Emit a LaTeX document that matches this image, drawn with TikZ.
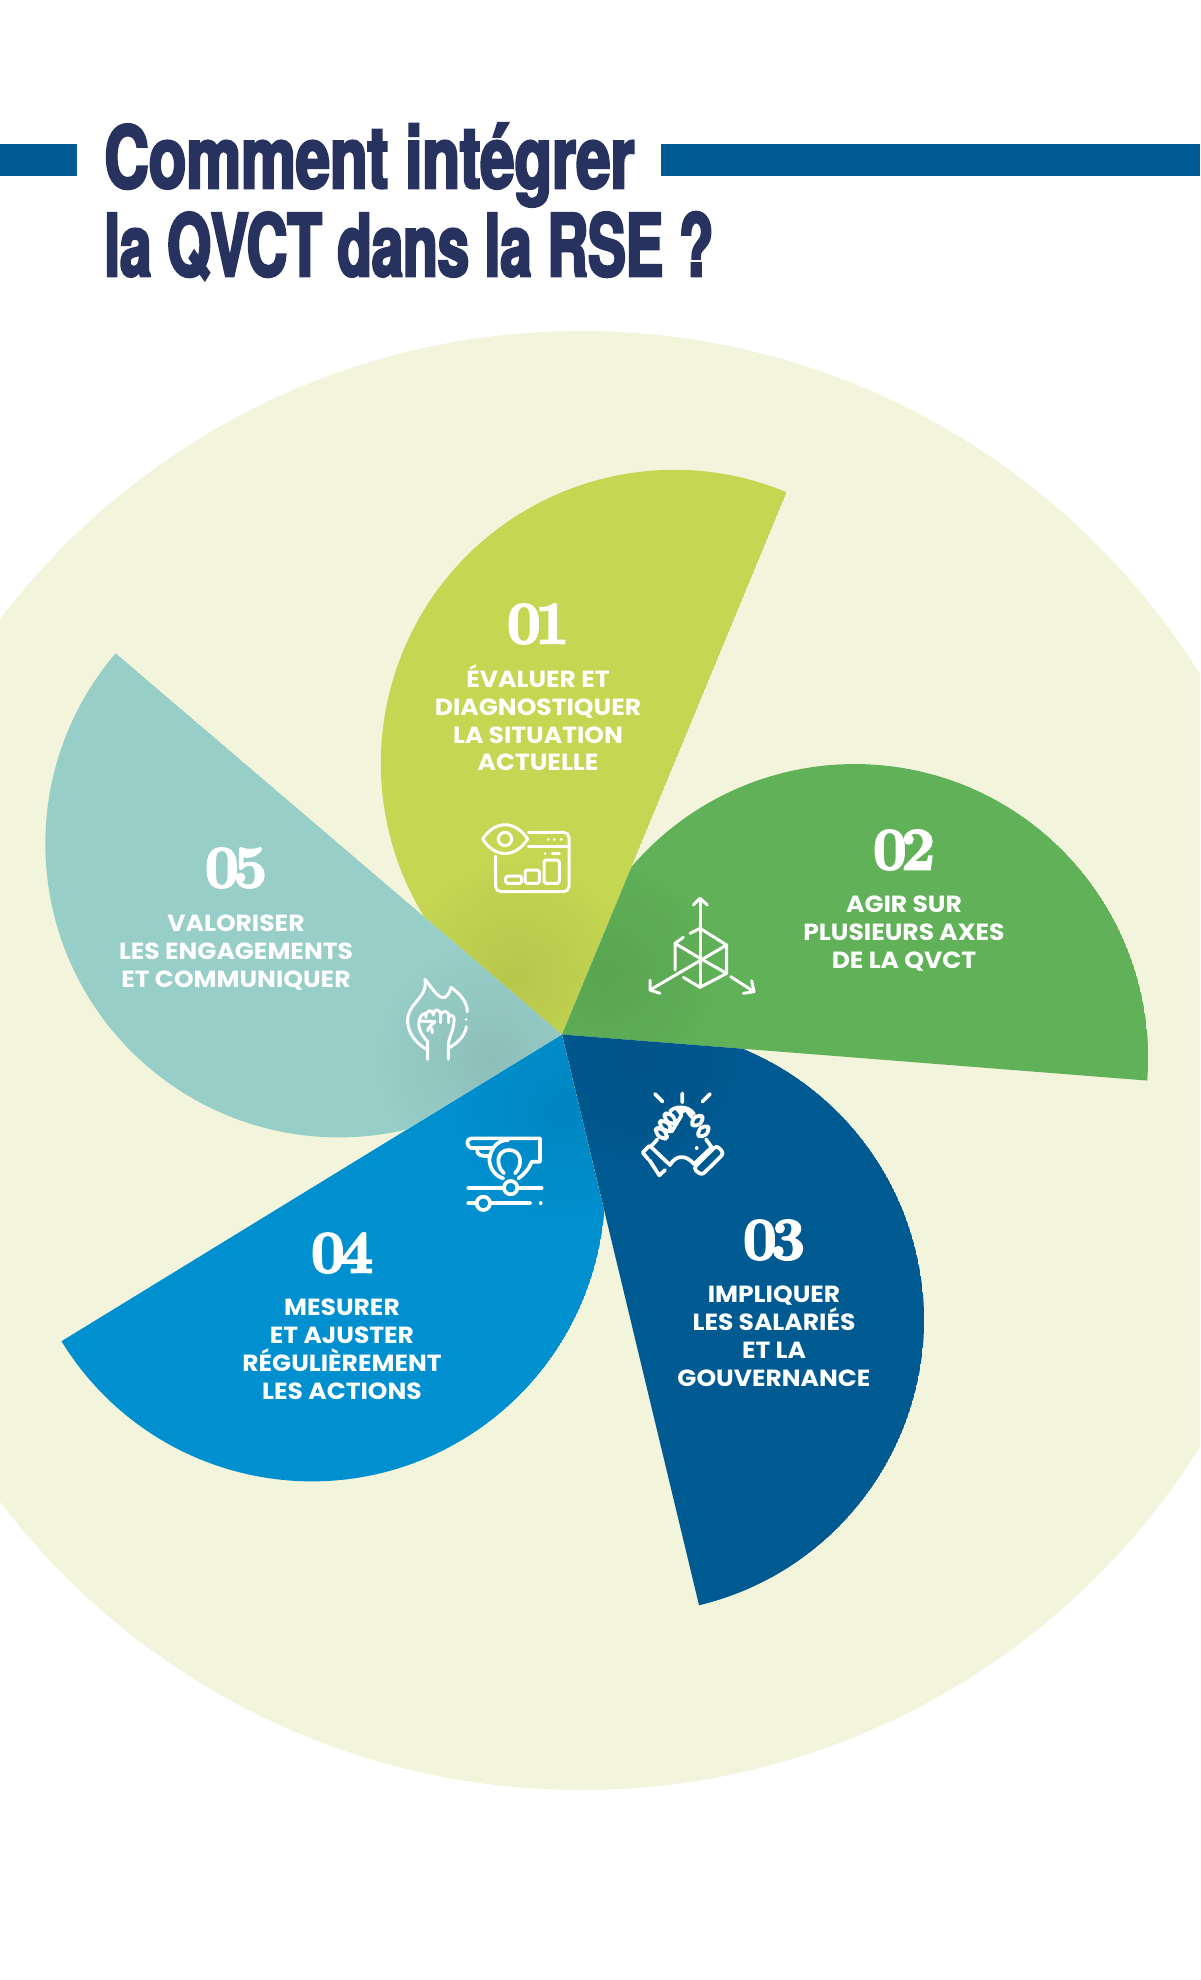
\documentclass[tikz,border=0pt]{standalone}
\usepackage{fontspec}
\usetikzlibrary{positioning,fadings}
\newfontfamily\titlefont[FakeStretch=0.655,BoldFeatures={FakeBold=3}]{TeX Gyre Heros}
\newfontfamily\titlefontwide[FakeStretch=0.715,BoldFeatures={FakeBold=3}]{TeX Gyre Heros}
\newfontfamily\lblfont[FakeStretch=1.07]{Poppins}
\newfontfamily\numfont[BoldFeatures={FakeBold=3.5}]{Latin Modern Roman}
\definecolor{bgcream}{HTML}{F2F4DC}
\definecolor{barblue}{HTML}{005A92}
\definecolor{titlenavy}{HTML}{28325F}
\definecolor{petallime}{HTML}{C4D652}
\definecolor{petalgreen}{HTML}{60B158}
\definecolor{petalnavy}{HTML}{005A92}
\definecolor{petalblue}{HTML}{0090D0}
\definecolor{petalteal}{HTML}{98CEC8}
\tikzfading[name=softspot, inner color=transparent!93, outer color=transparent!100]
\begin{document}
\begin{tikzpicture}[x=0.02cm, y=0.02cm, node distance=3cm]
\tikzstyle{titlelbl}=[anchor=base west, inner sep=0pt, text=titlenavy]
\tikzstyle{numlbl}=[text=white, font=\numfont\bfseries\fontsize{34}{34}\selectfont, inner sep=0pt]
\tikzstyle{txtlbl}=[text=white, align=center, inner sep=0pt,
  font=\lblfont\bfseries\fontsize{13.3}{15.8}\selectfont]
\tikzstyle{icon}=[draw=white, line width=1.7pt, line cap=round, line join=round]
\tikzstyle{iconbig}=[icon, line width=2.1pt]
\useasboundingbox (0,0) rectangle (1200,-1980);
\clip (0,0) rectangle (1200,-1980);
\coordinate (C) at (562,-1034.5);
\fill[bgcream] (581,-1060.5) circle (729.5);
% bars and title
\fill[barblue] (0,-144) rectangle (77,-176);
\fill[barblue] (661,-144) rectangle (1200,-176);
\node[titlelbl, font=\titlefontwide\bfseries\fontsize{49}{49}\selectfont] (title1) at (104,-188) {Comment intégrer};
\node[titlelbl, font=\titlefont\bfseries\fontsize{49}{49}\selectfont] (title2) at (104,-276) {la QVCT dans la RSE ?};
% petals
\foreach \ang/\col in {67.5/petallime,-4.5/petalgreen,-76.5/petalnavy,-148.5/petalblue,139.5/petalteal}{
  \begin{scope}
    \clip (C) ++(\ang:587) arc[start angle=\ang, end angle=\ang+144, radius=293.5] -- (C) -- cycle;
    \fill[\col] (C) ++(\ang:587) arc[start angle=\ang, end angle=\ang+144, radius=293.5] -- (C) -- cycle;
    \fill[black, path fading=softspot] (C) ++(\ang+60:75) circle (115);
  \end{scope}
}
% labels
\node[numlbl] (n01) at (538,-624) {0\kern-.09em 1};
\node[txtlbl, below=11.5pt of n01] (t01) {ÉVALUER ET\\DIAGNOSTIQUER\\LA SITUATION\\ACTUELLE};
\node[numlbl] (n02) at (904,-850) {0\kern-.09em 2};
\node[txtlbl, below=14.5pt of n02] (t02) {AGIR SUR\\PLUSIEURS AXES\\DE LA QVCT};
\node[numlbl] (n03) at (774,-1240) {0\kern-.09em 3};
\node[txtlbl, below=14.5pt of n03] (t03) {IMPLIQUER\\LES SALARIÉS\\ET LA\\GOUVERNANCE};
\node[numlbl] (n04) at (342,-1253) {0\kern-.09em 4};
\node[txtlbl, below=14.5pt of n04] (t04) {MESURER\\ET AJUSTER\\RÉGULIÈREMENT\\LES ACTIONS};
\node[numlbl] (n05) at (236,-868) {0\kern-.09em 5};
\node[txtlbl, below=15pt of n05] (t05) {VALORISER\\LES ENGAGEMENTS\\ET COMMUNIQUER};
% icon 01, eye and window
\begin{scope}[shift={(460,-800)}, xscale=1/3, yscale=-1/3]
\draw[icon] (68,117) .. controls (105,60) and (165,60) .. (203,117) .. controls (165,175) and (105,175) .. (68,117);
\draw[icon] (135,117) circle (20);
\draw[icon, rounded corners=3pt] (205,97) -- (327,97) -- (327,275) -- (107,275) -- (107,168);
\draw[icon] (205,138) -- (327,138);
\draw[icon] (265,117) -- (265.1,117) (283,117) -- (283.1,117) (303,117) -- (303.1,117);
\draw[icon] (255,160) -- (255.1,160) (277,160) -- (298,160);
\draw[icon, rounded corners=1pt] (137,228) rectangle (185,250);
\draw[icon, rounded corners=1pt] (195,210) rectangle (238,250);
\draw[icon, rounded corners=1pt] (252,180) rectangle (298,250);
\end{scope}
% icon 02, cube and arrows
\begin{scope}[shift={(600,-870)}, xscale=1/3, yscale=-1/3]
\draw[icon] (300,85) -- (300,352);
\draw[icon] (280,105) -- (300,85) -- (322,105);
\draw[icon] (270,190) -- (300,175) -- (380,225) -- (380,310) -- (300,352) -- (250,322);
\draw[icon] (250,202) -- (225,220) -- (225,300);
\draw[icon] (225,220) -- (300,265) -- (380,310);
\draw[icon] (380,225) -- (150,360);
\draw[icon] (150,330) -- (150,360) -- (180,370);
\draw[icon] (392,320) -- (462,365);
\draw[icon] (455,332) -- (462,365) -- (430,370);
\end{scope}
% icon 03, clasped hands
\begin{scope}[shift={(620,-1070)}, xscale=1/3, yscale=-1/3]
\draw[iconbig] (105,72) -- (128,95) (187,70) -- (187,97) (270,72) -- (247,95);
\draw[iconbig] (90,228) -- (150,285) .. controls (165,258) and (195,250) .. (222,282);
\draw[iconbig] (135,300) -- (118,316) -- (88,270) (88,228) -- (68,248) -- (85,268);
\draw[iconbig] (97,285) -- (97.1,285) (230,235) -- (230.1,235);
\draw[iconbig, rounded corners=2pt] (290,226) -- (312,250) -- (245,316) -- (220,295) -- cycle;
\draw[iconbig] (222,282) -- (275,232) -- (258,208);
\draw[iconbig] (96,226) -- (112,208);
\foreach \fx/\fy in {124/190,136/168,150/146}
  \draw[iconbig, rounded corners=3pt, rotate around={42:(\fx,\fy)}] (\fx-20,\fy-11) rectangle (\fx+20,\fy+11);
\foreach \fx/\fy in {232/152,250/184}
  \draw[iconbig, rounded corners=3pt, rotate around={-42:(\fx,\fy)}] (\fx-19,\fy-12) rectangle (\fx+19,\fy+12);
\draw[iconbig] (150,125) .. controls (160,108) and (205,105) .. (222,132);
\draw[iconbig] (172,118) -- (195,118) -- (182,130) -- cycle;
\draw[iconbig] (185,135) -- (155,185) (200,122) -- (216,142);
\end{scope}
% icon 04, winged bulb and sliders
\begin{scope}[shift={(440,-1110)}, xscale=1/3, yscale=-1/3]
\draw[iconbig] (95,115) .. controls (75,105) and (80,85) .. (95,85) -- (300,85) -- (300,155) -- (275,155) .. controls (265,180) and (250,195) .. (235,205);
\draw[iconbig] (95,115) -- (155,115);
\draw[iconbig] (112,118) .. controls (110,138) and (125,138) .. (148,138);
\draw[iconbig] (205,90) .. controls (165,90) and (150,125) .. (148,150) .. controls (150,180) and (170,200) .. (190,205);
\draw[iconbig] (192,190) .. controls (165,165) and (170,120) .. (207,120) .. controls (245,120) and (250,165) .. (225,190);
\draw[iconbig] (85,233) -- (190,233) (234,233) -- (305,233);
\draw[iconbig] (212,233) circle (20);
\draw[iconbig] (85,280) -- (108,280) (152,280) -- (270,280);
\draw[iconbig] (130,280) circle (20);
\draw[iconbig] (302,280) -- (302.1,280);
\end{scope}
% icon 05, fist in flame
\begin{scope}[shift={(390,-960)}, xscale=1/3, yscale=-1/3]
\draw[icon] (110,268) .. controls (60,240) and (30,180) .. (75,130) .. controls (95,105) and (110,90) .. (105,58) .. controls (120,75) and (145,120) .. (165,112) .. controls (175,105) and (180,95) .. (183,82) .. controls (215,105) and (232,130) .. (232,155);
\draw[icon] (228,178) -- (228.1,178);
\draw[icon] (229,200) .. controls (225,230) and (200,250) .. (175,265);
\draw[icon] (113,298) -- (113,245) .. controls (95,225) and (82,205) .. (88,180) .. controls (92,165) and (100,160) .. (108,160);
\draw[icon] (108,172) .. controls (105,150) and (128,145) .. (130,165) .. controls (130,145) and (150,145) .. (152,165) .. controls (155,150) and (178,150) .. (176,170) .. controls (185,160) and (195,170) .. (192,185) .. controls (190,215) and (175,235) .. (175,255) -- (175,298);
\draw[icon] (90,183) -- (135,185) (135,185) .. controls (125,195) and (115,200) .. (113,212) (125,205) -- (127,218);
\draw[icon] (152,165) -- (152,188) (176,170) -- (176,188);
\end{scope}
\end{tikzpicture}
\end{document}
